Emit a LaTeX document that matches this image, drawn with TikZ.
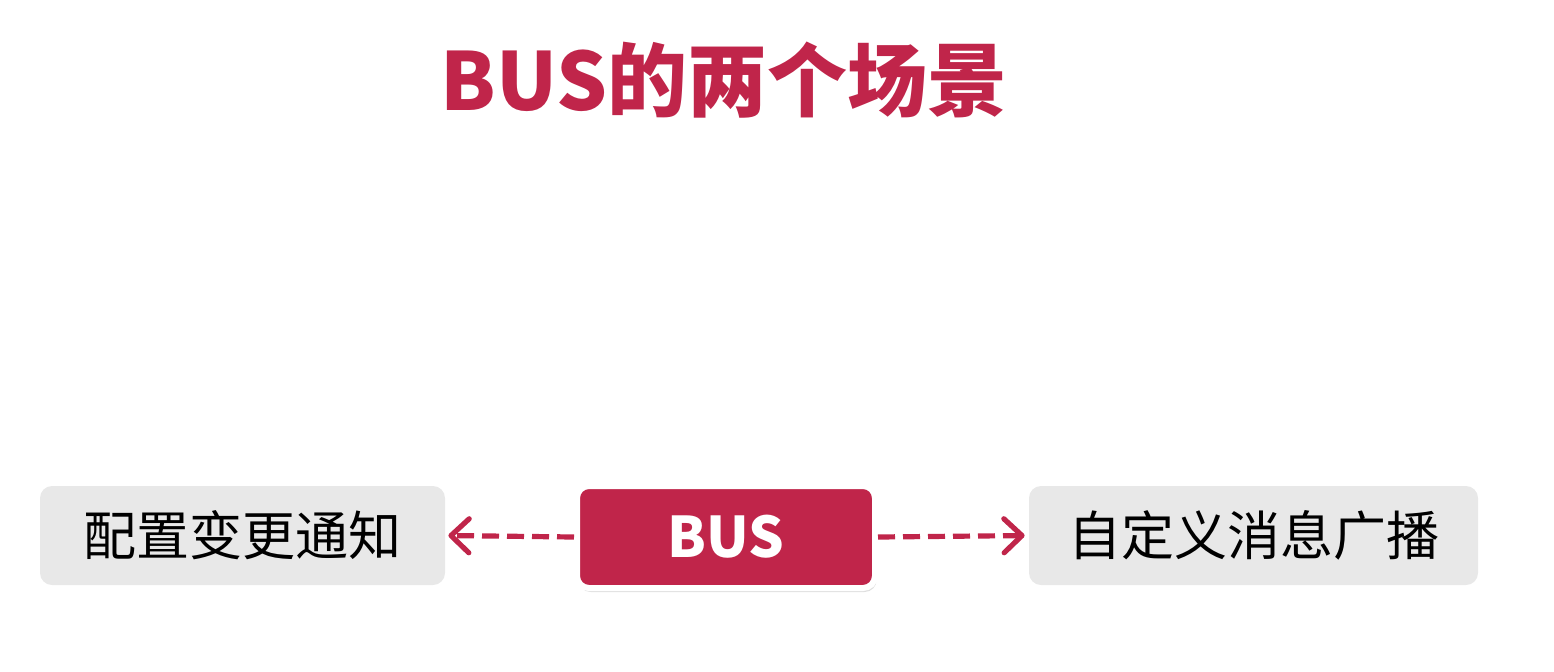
\documentclass[tikz,border=0pt]{standalone}
\usepackage{fontspec}
\setmainfont{Noto Sans}
\newfontfamily\cjk{Noto Sans CJK SC}
\usetikzlibrary{arrows.meta,shadows}
\definecolor{busred}{HTML}{C0254A}
\definecolor{boxgray}{HTML}{E8E8E8}
\tikzset{
  scenebox/.style={fill=boxgray, rounded corners=6pt, inner sep=0pt,
    minimum height=49.5pt, font=\cjk\fontsize{26.5}{30}\selectfont},
  busbox/.style={fill=busred, draw=white, line width=3pt, rounded corners=6pt,
    inner sep=0pt, minimum width=149pt, minimum height=51pt, text=white,
    font=\cjk\bfseries\fontsize{28}{32}\selectfont,
    drop shadow={shadow xshift=0.8pt, shadow yshift=-2pt, opacity=0.25}},
  busarrow/.style={draw=busred, line width=2.6pt, dash pattern=on 8.5pt off 4pt,
    -{Straight Barb[length=9pt, width=17pt, line cap=round, line join=round]}}
}
\begin{document}
\begin{tikzpicture}[x=0.5pt, y=-0.5pt]
    \useasboundingbox (0,0) rectangle (1554,671);
    \coordinate (TitlePos) at (724,80);
    \coordinate (BusPos)   at (726,537);
    \coordinate (CfgPos)   at (242.5,535.5);
    \coordinate (MsgPos)   at (1253.5,535.5);
    % title
    \node[text=busred, font=\cjk\bfseries\fontsize{40}{44}\selectfont] (title)
      at (TitlePos) {BUS的两个场景};
    % the three boxes
    \node[busbox] (bus) at (BusPos) {BUS};
    \node[scenebox, minimum width=202.5pt] (cfg) at (CfgPos) {配置变更通知};
    \node[scenebox, minimum width=224.5pt] (msg) at (MsgPos) {自定义消息广播};
    % links
    \draw[busarrow, shorten >=1.5pt] (bus.west) -- (cfg.east);
    \draw[busarrow, shorten >=2pt] (bus.east) -- (msg.west);
\end{tikzpicture}
\end{document}
